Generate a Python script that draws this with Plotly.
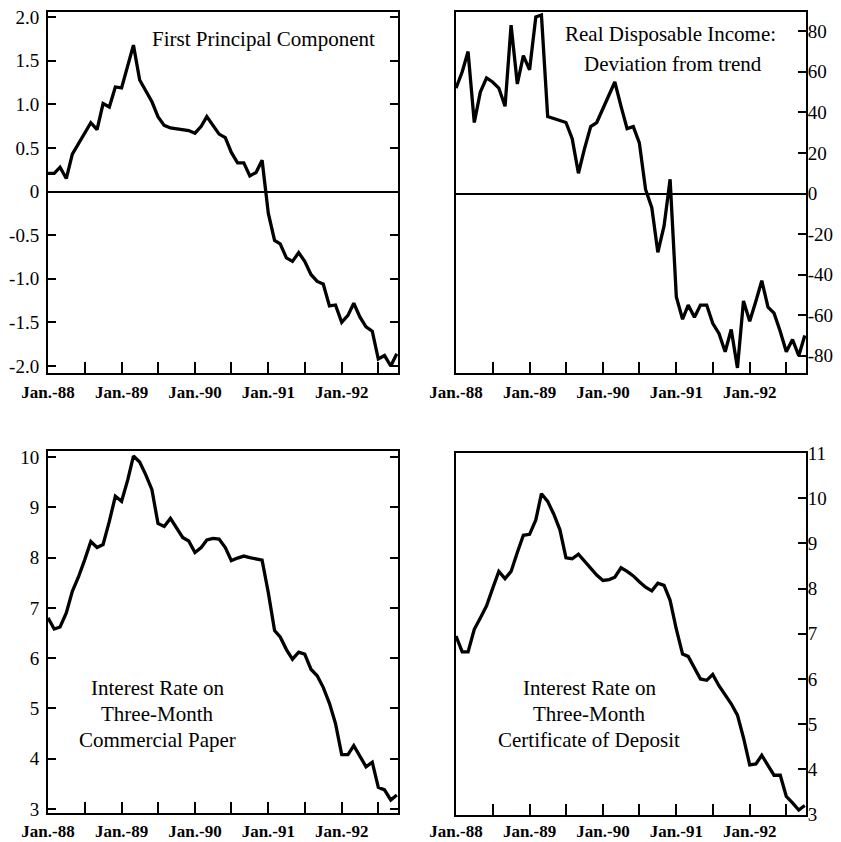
import plotly.graph_objects as go
import pandas as pd

# ---------------- data (monthly, Jan 1988 - Oct 1992) ----------------
months = pd.date_range("1988-01-01", periods=58, freq="MS")

first_pc = [0.21, 0.21, 0.28, 0.15, 0.43, 0.55, 0.67, 0.79, 0.71, 1.01,
            0.97, 1.20, 1.19, 1.45, 1.68, 1.28, 1.16, 1.03, 0.86, 0.76,
            0.73, 0.72, 0.71, 0.70, 0.67, 0.75, 0.86, 0.76, 0.66, 0.62,
            0.45, 0.33, 0.33, 0.18, 0.22, 0.36, -0.25, -0.56, -0.60, -0.76,
            -0.80, -0.70, -0.80, -0.95, -1.03, -1.06, -1.31, -1.30, -1.50, -1.42,
            -1.28, -1.44, -1.55, -1.60, -1.92, -1.88, -2.00, -1.86]

real_income_dev = [52, 60, 70, 35, 50, 57, 55, 52, 43, 83,
                   54, 68, 61, 87, 88, 38, 37, 36, 35, 27,
                   10, 22, 33, 35, 42, 48, 55, 43, 32, 33,
                   25, 2, -7, -29, -16, 7, -51, -62, -55, -61,
                   -55, -55, -64, -69, -78, -67, -86, -53, -63, -53,
                   -43, -56, -59, -68, -78, -72, -80, -70]

cp_rate = [6.80, 6.58, 6.62, 6.90, 7.33, 7.62, 7.95, 8.32, 8.20, 8.26,
           8.72, 9.22, 9.12, 9.55, 10.02, 9.90, 9.65, 9.35, 8.68, 8.62,
           8.78, 8.60, 8.40, 8.33, 8.10, 8.20, 8.35, 8.38, 8.37, 8.20,
           7.94, 7.99, 8.03, 8.00, 7.98, 7.95, 7.30, 6.55, 6.42, 6.17,
           5.98, 6.12, 6.08, 5.78, 5.65, 5.42, 5.10, 4.70, 4.08, 4.08,
           4.26, 4.03, 3.84, 3.93, 3.43, 3.38, 3.18, 3.28]

cd_rate = [6.95, 6.60, 6.60, 7.10, 7.35, 7.62, 8.00, 8.38, 8.22, 8.38,
           8.80, 9.18, 9.20, 9.52, 10.10, 9.93, 9.65, 9.30, 8.68, 8.66,
           8.76, 8.60, 8.45, 8.30, 8.18, 8.20, 8.25, 8.46, 8.38, 8.28,
           8.15, 8.03, 7.95, 8.12, 8.07, 7.74, 7.10, 6.55, 6.50, 6.25,
           6.00, 5.97, 6.10, 5.85, 5.64, 5.45, 5.20, 4.70, 4.10, 4.12,
           4.31, 4.08, 3.87, 3.87, 3.40, 3.26, 3.10, 3.20]

x_tick_dates = pd.date_range("1988-01-01", "1992-07-01", freq="6MS")
x_tick_text = ["Jan.-88", "", "Jan.-89", "", "Jan.-90", "", "Jan.-91", "", "Jan.-92", ""]

pc_ticks = [2.0, 1.5, 1.0, 0.5, 0, -0.5, -1.0, -1.5, -2.0]
pc_ticktext = ["2.0", "1.5", "1.0", "0.5", "0", "-0.5", "-1.0", "-1.5", "-2.0"]
rdi_ticks = [80, 60, 40, 20, 0, -20, -40, -60, -80]
rdi_ticktext = ["80", "60", "40", "20", "0", "-20", "-40", "-60", "-80"]
cp_ticks = [3, 4, 5, 6, 7, 8, 9, 10]
cd_ticks = [3, 4, 5, 6, 7, 8, 9, 10, 11]

# ---------------- figure ----------------
# the page body has an 8px margin, so the figure is drawn 8px in from the corner
OFF = 8
W, H = 841 - OFF, 842 - OFF
FONT = "Liberation Serif"

def px_x(a, b):
    return [(a - OFF) / W, (b - OFF) / W]

def px_y(top, bottom):
    return [1 - (bottom - OFF) / H, 1 - (top - OFF) / H]

panels = [
    dict(y=first_pc, xd=px_x(48, 398), yd=px_y(12, 373), yr=[-2.08, 2.06],
         tv=pc_ticks, tt=pc_ticktext, side="left", zero=True, xso=3),
    dict(y=real_income_dev, xd=px_x(456, 806), yd=px_y(12, 373), yr=[-88.5, 89.5],
         tv=rdi_ticks, tt=rdi_ticktext, side="right", zero=True, xso=3),
    dict(y=cp_rate, xd=px_x(48, 398), yd=px_y(451, 813), yr=[2.92, 10.12],
         tv=cp_ticks, tt=[str(v) for v in cp_ticks], side="left", zero=False, xso=2),
    dict(y=cd_rate, xd=px_x(456, 806), yd=px_y(453, 815), yr=[2.99, 11.0],
         tv=cd_ticks, tt=[str(v) for v in cd_ticks], side="right", zero=False, xso=0),
]

fig = go.Figure()
layout = dict(
    template="none",
    width=W, height=H,
    margin=dict(l=0, r=0, t=0, b=0, autoexpand=False),
    paper_bgcolor="white", plot_bgcolor="white",
    showlegend=False,
    font=dict(family=FONT, color="black"),
)

x_end = pd.Timestamp("1992-10-07")
for k, p in enumerate(panels, start=1):
    sfx = "" if k == 1 else str(k)
    left = p["side"] == "left"
    fig.add_trace(go.Scatter(
        x=months, y=p["y"], mode="lines",
        line=dict(color="black", width=3.3),
        xaxis="x" + sfx, yaxis="y" + sfx,
    ))
    layout["xaxis" + sfx] = dict(
        domain=p["xd"], anchor="y" + sfx, type="date",
        range=[months[0], x_end], automargin=False,
        tickmode="array", tickvals=list(x_tick_dates), ticktext=x_tick_text,
        ticks="inside", ticklen=11, tickwidth=2, tickcolor="black",
        showline=True, linecolor="black", linewidth=2, mirror=True,
        showgrid=False, zeroline=False,
        tickfont=dict(family=FONT, size=17, color="black", weight="bold"),
        ticklabelstandoff=p["xso"], ticklabeloverflow="allow",
    )
    layout["yaxis" + sfx] = dict(
        domain=p["yd"], anchor="x" + sfx, range=p["yr"], side=p["side"],
        automargin=False,
        tickmode="array", tickvals=p["tv"], ticktext=p["tt"],
        ticks="inside", ticklen=8, tickwidth=2, tickcolor="black",
        showline=True, linecolor="black", linewidth=2,
        mirror="ticks" if left else True,
        showgrid=False,
        zeroline=p["zero"], zerolinecolor="black", zerolinewidth=1.5,
        tickfont=dict(family=FONT, size=19, color="black"),
        ticklabelstandoff=3 if left else -4,
        ticklabeloverflow="allow",
    )

notes = [
    ("First Principal Component", 263, 39),
    ("Real Disposable Income:", 670, 34),
    ("Deviation from trend", 673, 64),
    ("Interest Rate on", 157, 688),
    ("Three-Month", 157, 714),
    ("Commercial Paper", 157, 740),
    ("Interest Rate on", 589, 688),
    ("Three-Month", 589, 714),
    ("Certificate of Deposit", 589, 740),
]
layout["annotations"] = [
    dict(text=t, x=(x - OFF) / W, y=1 - (y - OFF) / H, xref="paper", yref="paper",
         xanchor="center", yanchor="middle", showarrow=False,
         font=dict(family=FONT, size=21, color="black"))
    for t, x, y in notes
]

fig.update_layout(**layout)
fig.write_html("out.html")
